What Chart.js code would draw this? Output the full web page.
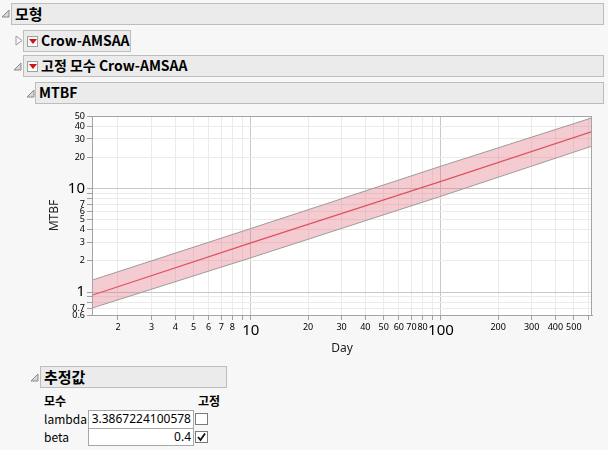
<!DOCTYPE html>
<html>
<head>
<meta charset="utf-8">
<script src="https://cdn.jsdelivr.net/npm/chart.js@4.4.1/dist/chart.umd.min.js"></script>
<style>
  html, body { margin: 0; padding: 0; }
  body { width: 608px; height: 450px; background: #f7f7f7; position: relative; overflow: hidden;
         font-family: "Noto Sans", "Noto Sans CJK KR", sans-serif; color: #000; }
  .hdr { position: absolute; background: #ebebeb; border: 1px solid #bdbdbd; box-sizing: border-box;
         font-weight: bold; font-size: 14px; line-height: 19px; padding-left: 3px; white-space: nowrap;
         font-family: "Noto Sans CJK KR", "Noto Sans", sans-serif; }
  .tri { position: absolute; }
  .menu { display: inline-block; width: 11px; height: 11px; border: 1px solid #a0a0a0; background: #fafafa;
          box-sizing: border-box; vertical-align: -1px; margin-right: 3px; position: relative; }
  .menu:after { content: ""; position: absolute; left: 1px; top: 2px; border-left: 4px solid transparent;
                border-right: 4px solid transparent; border-top: 5px solid #d0101a; }
  #wrap { position: absolute; left: 0; top: 106px; width: 608px; height: 250px; }
  .lbl { position: absolute; font-size: 12px; line-height: 16px; font-family: "Noto Sans CJK KR", "Noto Sans", sans-serif; }
  .b { font-weight: bold; }
  .inp { position: absolute; background: #fff; border: 1px solid #a8a8a8; box-sizing: border-box;
         font-size: 12px; line-height: 16px; text-align: right; padding-right: 2px; }
  .chk { position: absolute; width: 13px; height: 12px; background: #fff; border: 1px solid #7a7a7a; box-sizing: border-box; }
</style>
</head>
<body>

<svg class="tri" style="left:1px;top:9px" width="9" height="9"><polygon points="8,1 8,8 1,8" fill="#d8d8d8" stroke="#8a8a8a" stroke-width="1"/></svg>
<div class="hdr" style="left:11px;top:3px;width:593px;height:22px;font-size:15px;line-height:20px;">모형</div>

<svg class="tri" style="left:15px;top:35px" width="8" height="11"><polygon points="1,1 7,5.5 1,10" fill="#fafafa" stroke="#9a9a9a" stroke-width="1"/></svg>
<div class="hdr" style="left:23px;top:30px;width:108px;height:22px;"><span class="menu"></span>Crow-AMSAA</div>

<svg class="tri" style="left:13px;top:62px" width="9" height="9"><polygon points="8,1 8,8 1,8" fill="#d8d8d8" stroke="#8a8a8a" stroke-width="1"/></svg>
<div class="hdr" style="left:23px;top:55px;width:581px;height:22px;"><span class="menu"></span>고정 모수 Crow-AMSAA</div>

<svg class="tri" style="left:26px;top:89px" width="9" height="9"><polygon points="8,1 8,8 1,8" fill="#d8d8d8" stroke="#8a8a8a" stroke-width="1"/></svg>
<div class="hdr" style="left:35px;top:82px;width:569px;height:22px;">MTBF</div>

<div id="wrap"><canvas id="canvasMtbf"></canvas></div>

<svg class="tri" style="left:30px;top:373px" width="9" height="9"><polygon points="8,1 8,8 1,8" fill="#d8d8d8" stroke="#8a8a8a" stroke-width="1"/></svg>
<div class="hdr" style="left:40px;top:366px;width:187px;height:22px;font-size:15px;">추정값</div>

<div class="lbl b" style="left:44px;top:393px;">모수</div>
<div class="lbl b" style="left:198px;top:393px;">고정</div>
<div class="lbl" style="left:44px;top:411px;">lambda</div>
<div class="lbl" style="left:44px;top:429px;">beta</div>
<div class="inp" style="left:88px;top:410px;width:106px;height:19px;">3.3867224100578</div>
<div class="inp" style="left:88px;top:428px;width:106px;height:18px;">0.4</div>
<div class="chk" style="left:195px;top:413px;"></div>
<div class="chk" style="left:195px;top:431px;"><svg width="11" height="10" style="position:absolute;left:0;top:0"><polyline points="2,5 4.5,8 9,1.5" fill="none" stroke="#111" stroke-width="1.8"/></svg></div>

<script>
// 資料
var days = [1.46, 10, 100, 623];
var mtbf = [0.93, 2.98, 11.7, 35.4];
var mtbfLower = [0.70, 2.14, 8.4, 25.6];
var mtbfUpper = [1.30, 4.1, 16.4, 48];

var xTicks = [2, 3, 4, 5, 6, 7, 8, 9, 10, 20, 30, 40, 50, 60, 70, 80, 90, 100, 200, 300, 400, 500, 600];
var xLabels = ['2', '3', '4', '5', '6', '7', '8', '', '10', '20', '30', '40', '50', '60', '70', '80', '', '100', '200', '300', '400', '500', ''];
var yTicks = [0.6, 0.7, 0.8, 0.9, 1, 2, 3, 4, 5, 6, 7, 8, 9, 10, 20, 30, 40, 50];
var yLabels = ['0.6', '0.7', '', '', '1', '2', '3', '4', '5', '6', '7', '', '', '10', '20', '30', '40', '50'];
var majorTicks = [1, 10, 100];

function pts(ys) {
    return days.map(function (d, i) { return { x: d, y: ys[i] }; });
}
function isMajor(v) {
    return majorTicks.indexOf(v) >= 0;
}
function tickFont(ctx) {
    if (ctx.tick && isMajor(ctx.tick.value)) return { size: 15, family: 'Noto Sans' };
    return { size: 9, family: 'Noto Sans' };
}
function gridColor(ctx) {
    if (ctx.tick && isMajor(ctx.tick.value)) return '#c8c8c8';
    return '#ebebeb';
}

var frame = {//plot box
    id: 'frame',
    afterDraw: function (chart) {
        var a = chart.chartArea, c = chart.ctx;
        c.save();
        c.strokeStyle = '#a4a4a4';
        c.lineWidth = 1;
        c.strokeRect(Math.round(a.left) + 0.5, Math.round(a.top) + 0.5, Math.round(a.right - a.left) - 1, Math.round(a.bottom - a.top));
        c.restore();
    }
};
var whiteBg = {
    id: 'whiteBg',
    beforeDraw: function (chart) {
        var a = chart.chartArea, c = chart.ctx;
        c.save();
        c.fillStyle = '#ffffff';
        c.fillRect(a.left, a.top, a.right - a.left, a.bottom - a.top);
        c.restore();
    }
};

var config = {
    type: 'line',
    data: {
        datasets: [{
            data: pts(mtbfLower),
            borderColor: '#a09a9a',
            borderWidth: 1,
            pointRadius: 0,
            fill: false
        }, {
            data: pts(mtbfUpper),
            borderColor: '#a09a9a',
            borderWidth: 1,
            pointRadius: 0,
            backgroundColor: 'rgba(222, 110, 128, 0.36)',
            fill: '-1'
        }, {
            data: pts(mtbf),
            borderColor: '#e0404c',
            borderWidth: 1.2,
            pointRadius: 0,
            fill: false
        }]
    },
    plugins: [whiteBg, frame],
    options: {
        responsive: false,
        animation: false,
        events: [],
        layout: { padding: { left: 47, right: 16, top: 10, bottom: 0 } },
        plugins: { legend: { display: false }, tooltip: { enabled: false } },
        scales: {
            x: {
                type: 'logarithmic',
                min: days[0],
                max: days[days.length - 1],
                afterBuildTicks: function (s) { s.ticks = xTicks.map(function (v) { return { value: v }; }); },
                afterFit: function (s) { s.height = 41; },
                ticks: {
                    autoSkip: false, maxRotation: 0, padding: 2, color: '#000',
                    font: tickFont,
                    callback: function (v) { var i = xTicks.indexOf(v); return i >= 0 ? xLabels[i] : ''; }
                },
                grid: { color: gridColor, tickColor: '#a0a0a0', tickLength: 5 },
                border: { color: '#a4a4a4' },
                title: { display: true, text: 'Day', color: '#222', font: { size: 12, family: 'Noto Sans' }, padding: { top: 0, bottom: 0 } }
            },
            y: {
                type: 'logarithmic',
                min: 0.6,
                max: 50,
                afterBuildTicks: function (s) { s.ticks = yTicks.map(function (v) { return { value: v }; }); },
                afterFit: function (s) { s.width = 45; },
                ticks: {
                    autoSkip: false, padding: 2, color: '#000',
                    font: tickFont,
                    callback: function (v) { var i = yTicks.indexOf(v); return i >= 0 ? yLabels[i] : ''; }
                },
                grid: { color: gridColor, tickColor: '#a0a0a0', tickLength: 5 },
                border: { color: '#a4a4a4' },
                title: { display: true, text: 'MTBF', color: '#222', font: { size: 12, family: 'Noto Sans' }, padding: { top: 0, bottom: 0 } }
            }
        }
    }
};

window.onload = function () {
    var cv = document.getElementById('canvasMtbf');
    cv.width = 608;
    cv.height = 250;
    window.myChart = new Chart(cv, config);
};
</script>
</body>
</html>
